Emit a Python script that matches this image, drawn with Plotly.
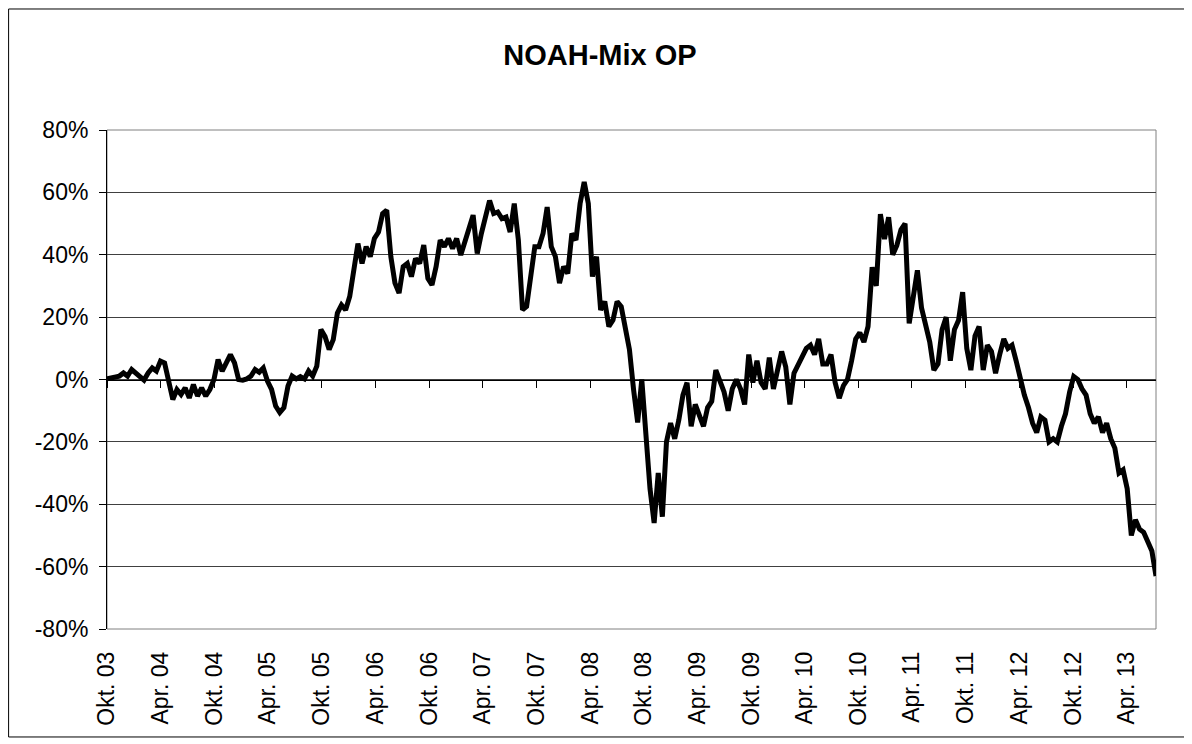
import pandas as pd
import plotly.graph_objects as go

# Series values (% change) at 14-day intervals starting 1 Oct 2003
start_date = "2003-10-01"
step_days = 14
values = [
    0.2, 0.4, 0.9, 1.1, 2.1, 1.1, 3.2, 1.9, 1.1, -0.2,
    2.1, 3.7, 2.7, 5.9, 5.3, -1.1, -6.4, -3.2, -4.8, -2.7,
    -5.9, -1.6, -5.3, -2.7, -5.3, -3.2, 0.0, 6.4, 2.7, 5.3,
    8.0, 5.3, 0.0, -0.2, 0.2, 1.1, 3.2, 2.3, 3.7, -0.5,
    -3.2, -8.5, -10.6, -9.0, -2.1, 1.1, 0.2, 0.9, 0.2, 2.7,
    1.1, 4.3, 16.0, 13.8, 9.6, 12.8, 21.3, 23.9, 22.3, 26.6,
    34.0, 43.6, 37.2, 42.6, 39.4, 45.2, 47.3, 53.2, 54.3, 39.4,
    30.9, 27.7, 36.2, 37.2, 33.0, 38.8, 37.2, 43.1, 32.4, 30.3,
    36.2, 44.7, 42.6, 45.2, 42.0, 45.2, 39.9, 44.7, 48.4, 52.7,
    40.4, 46.8, 52.1, 57.4, 53.2, 53.7, 51.6, 52.1, 47.3, 56.4,
    44.7, 22.3, 23.4, 34.0, 42.6, 42.6, 46.8, 55.3, 42.6, 39.4,
    30.9, 36.2, 34.0, 46.8, 44.7, 56.4, 63.3, 56.4, 33.0, 39.4,
    22.3, 25.0, 17.0, 19.1, 25.0, 23.4, 15.4, 9.6, -3.2, -13.8,
    0.0, -17.0, -35.0, -46.0, -30.0, -44.0, -20.0, -14.0, -19.0, -13.0,
    -5.0, -1.0, -15.0, -8.0, -12.0, -15.0, -9.0, -7.0, 3.0, -1.0,
    -4.0, -10.0, -3.0, 0.0, -3.0, -8.0, 8.0, -1.0, 6.0, -1.0,
    -3.0, 7.0, -3.0, 3.0, 9.0, 4.0, -8.0, 2.0, 5.0, 8.0,
    10.0, 11.0, 8.0, 13.0, 5.0, 5.0, 8.0, -1.0, -6.0, -2.0,
    0.0, 6.0, 13.0, 15.0, 12.0, 17.0, 36.0, 30.0, 53.0, 45.0,
    52.0, 40.0, 43.0, 48.0, 50.0, 18.0, 27.0, 35.0, 23.0, 17.0,
    12.0, 3.0, 5.0, 16.0, 20.0, 6.0, 16.0, 19.0, 28.0, 10.0,
    3.0, 14.0, 17.0, 3.0, 11.0, 9.0, 2.0, 8.0, 13.0, 10.0,
    11.0, 6.0, 0.0, -5.0, -9.0, -14.0, -17.0, -12.0, -13.0, -20.0,
    -19.0, -20.0, -15.0, -11.0, -4.0, 1.0, 0.0, -3.0, -5.0, -11.0,
    -14.0, -12.0, -17.0, -14.0, -19.0, -22.0, -30.0, -29.0, -35.0, -50.0,
    -45.0, -48.0, -49.0, -52.0, -55.0, -63.0,
]

# Category tick labels and their dates
tick_labels = [
    "Okt. 03", "Apr. 04", "Okt. 04", "Apr. 05", "Okt. 05", "Apr. 06", "Okt. 06",
    "Apr. 07", "Okt. 07", "Apr. 08", "Okt. 08", "Apr. 09", "Okt. 09", "Apr. 10",
    "Okt. 10", "Apr. 11", "Okt. 11", "Apr. 12", "Okt. 12", "Apr. 13",
]
tick_dates = [
    "2003-10-01", "2004-04-01", "2004-10-01", "2005-04-01", "2005-10-01",
    "2006-04-01", "2006-10-01", "2007-04-01", "2007-10-01", "2008-04-01",
    "2008-10-01", "2009-04-01", "2009-10-01", "2010-04-01", "2010-10-01",
    "2011-04-01", "2011-10-01", "2012-04-01", "2012-10-01", "2013-04-01",
]
y_ticks = [-80, -60, -40, -20, 0, 20, 40, 60, 80]
y_tick_labels = ["-80%", "-60%", "-40%", "-20%", "0%", "20%", "40%", "60%", "80%"]

dates = pd.date_range(start_date, periods=len(values), freq=f"{step_days}D")

FONT = "Liberation Sans, Arial, sans-serif"
x_range = ["2003-10-01", "2013-07-10"]

fig = go.Figure()
fig.add_trace(go.Scatter(
    x=dates, y=values, mode="lines",
    line=dict(color="black", width=5),
    showlegend=False, hoverinfo="x+y",
))
# invisible helper trace so the zero-crossing axis is drawn
fig.add_trace(go.Scatter(
    x=dates, y=values, mode="lines", xaxis="x2",
    line=dict(color="rgba(0,0,0,0)", width=0),
    showlegend=False, hoverinfo="skip",
))

fig.update_layout(
    width=1184, height=736,
    margin=dict(l=99, r=36, t=122, b=115),
    paper_bgcolor="white", plot_bgcolor="white",
    font=dict(family=FONT, color="black", size=23),
    title=dict(
        text="<b>NOAH-Mix OP</b>", x=0.5, xref="container", xanchor="center",
        y=1 - 47 / 736, yref="container", yanchor="middle",
        font=dict(family=FONT, size=29, color="black"),
    ),
    xaxis=dict(
        type="date", range=x_range,
        tickmode="array", tickvals=tick_dates, ticktext=tick_labels,
        tickangle=-90, ticks="", showgrid=False, zeroline=False,
        showline=False, ticklabelstandoff=17,
        tickfont=dict(family=FONT, size=23, color="black"),
    ),
    xaxis2=dict(
        type="date", range=x_range, overlaying="x", anchor="free",
        position=0.5, side="bottom",
        tickmode="array", tickvals=tick_dates, showticklabels=False,
        ticks="outside", ticklen=7, tickcolor="black", tickwidth=1,
        showline=True, linecolor="black", linewidth=1,
        showgrid=False, zeroline=False,
    ),
    yaxis=dict(
        range=[-80, 80], tickmode="array", tickvals=y_ticks, ticktext=y_tick_labels,
        ticks="outside", ticklen=7, tickcolor="black",
        showline=True, linecolor="black", linewidth=1,
        showgrid=True, gridcolor="#404040", gridwidth=1,
        zeroline=False, ticklabelstandoff=6,
        tickfont=dict(family=FONT, size=23, color="black"),
    ),
    shapes=[
        dict(type="rect", xref="paper", yref="paper", x0=0, y0=0, x1=1, y1=1,
             line=dict(color="#808080", width=1), layer="below"),
        dict(type="rect", xref="paper", yref="paper",
             x0=-0.0938, y0=-0.2164, x1=1.0277, y1=1.2425,
             line=dict(color="black", width=1), layer="below"),
    ],
)

fig.write_html("out.html")
